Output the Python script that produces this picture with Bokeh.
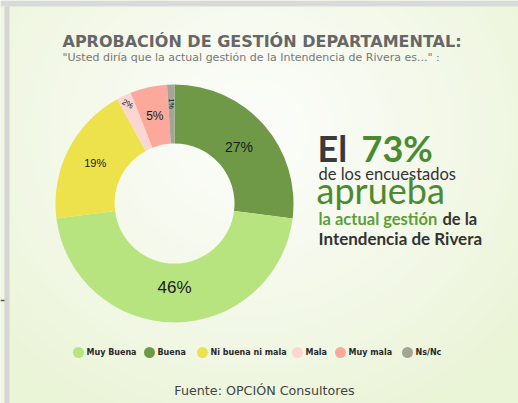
import numpy as np
from bokeh.plotting import figure
from bokeh.models import Range1d, ColumnDataSource
from bokeh.core.properties import value
from bokeh.embed import file_html
from bokeh.resources import INLINE

# ---------------- data ----------------
categories = ["Muy Buena", "Buena", "Ni buena ni mala", "Mala", "Muy mala", "Ns/Nc"]
values = [46, 27, 19, 2, 5, 1]
labels = ["46%", "27%", "19%", "2%", "5%", "1%"]
ring_order = [1, 0, 2, 3, 4, 5]  # clockwise from 12 o'clock

title = "APROBACIÓN DE GESTIÓN DEPARTAMENTAL:"
subtitle = "\"Usted diría que la actual gestión de la Intendencia de Rivera es...\" :"
source_note = "Fuente: OPCIÓN Consultores"

# ---------------- styles ----------------
colors = ["#b8e47f", "#6f9947", "#ede24c", "#fcd6d1", "#fca99b", "#a3a596"]
label_sizes = ["17px", "14px", "11px", "8px", "12px", "7px"]
label_radius = [84, 86, 89, 110, 90, 100]
label_rot = [0, 0, 0, -0.5, 0, -np.pi / 2]
legend_x = [78, 149, 202, 297, 340, 407]

W, H = 518, 403
p = figure(width=W, height=H, x_range=Range1d(0, W), y_range=Range1d(0, H),
           output_backend="svg", toolbar_location=None, min_border=0)
p.axis.visible = False
p.grid.visible = False
p.outline_line_color = None
p.border_fill_color = "#f2f7e8"
p.background_fill_color = "#f2f7e8"

# soft background gradient (style only), computed in screen rows then flipped
yy, xx = np.mgrid[0:H, 0:W]
d = np.sqrt(((xx - 250) / 360.0) ** 2 + ((yy - 130) / 330.0) ** 2)
t = np.clip(d, 0, 1) ** 1.2
c0 = np.array([252, 253, 250])
c1 = np.array([234, 244, 214])
img = np.zeros((H, W), dtype=np.uint32)
view = img.view(dtype=np.uint8).reshape((H, W, 4))
for k in range(3):
    view[:, :, k] = (c0[k] * (1 - t) + c1[k] * t).astype(np.uint8)
view[:, :, 3] = 255
img = img[::-1]
p.image_rgba(image=[img], x=0, y=0, dw=W, dh=H)

# screenshot frame (top bar, left strips)
p.quad(left=[0], right=[W], bottom=[H - 6], top=[H], fill_color="#d9d9d9", line_color=None)
p.quad(left=[0], right=[4], bottom=[0], top=[H - 6], fill_color="#eef5e0", line_color=None)
p.quad(left=[4], right=[9], bottom=[0], top=[H - 6], fill_color="#d5d5d5", line_color=None)
p.segment(x0=[0], y0=[H - 300], x1=[4], y1=[H - 300], line_color="#555555", line_width=1.5)

# ---------------- donut ----------------
cx, cy, r_in, r_out = 174, 200, 60, 119
total = float(sum(values))
starts, ends, cols, mids, order_idx = [], [], [], [], []
cum = 0.0
for i in ring_order:
    a0 = np.pi / 2 - 2 * np.pi * cum / total
    cum += values[i]
    a1 = np.pi / 2 - 2 * np.pi * cum / total
    starts.append(a0)
    ends.append(a1)
    cols.append(colors[i])
    mids.append((a0 + a1) / 2)
    order_idx.append(i)

src = ColumnDataSource(dict(start=starts, end=ends, color=cols))
p.annular_wedge(x=cx, y=cy, inner_radius=r_in, outer_radius=r_out,
                start_angle="start", end_angle="end", direction="clock",
                fill_color="color", line_color=None, source=src)

for m, i in zip(mids, order_idx):
    r = label_radius[i]
    p.text(x=[cx + r * np.cos(m)], y=[cy + r * np.sin(m)], text=[labels[i]],
           angle=label_rot[i], text_font=value("Liberation Sans"),
           text_font_size=label_sizes[i], text_color="#1a1a1a",
           text_align="center", text_baseline="middle")


def txt(x, y, s, font, size, color, bold=False, align="left"):
    p.text(x=[x], y=[y], text=[s], text_font=value(font),
           text_font_style="bold" if bold else "normal",
           text_font_size=size, text_color=color, text_align=align,
           text_baseline="middle")


# ---------------- titles ----------------
txt(62, 362.0, title, "DejaVu Sans", "16px", "#676767", bold=True)
txt(62, 346.5, subtitle, "DejaVu Sans", "11px", "#777777")

# ---------------- right text block ----------------
dark = "#3a3a3a"
green = "#4b8b2f"
green2 = "#5c9e3a"
txt(317, 255.9, "El", "Lato", "36px", dark, bold=True)
txt(361, 255.9, "73%", "Lato", "36px", green, bold=True)
txt(318, 229.8, "de los encuestados", "Lato", "16.5px", "#333333")
txt(316, 213.5, "aprueba", "Lato", "36px", green)
txt(318, 184.5, "la actual gestión", "Lato", "16.5px", green2, bold=True)
txt(442, 184.5, "de la", "Lato", "16.5px", "#333333", bold=True)
txt(318, 165.5, "Intendencia de Rivera", "Lato", "17px", "#333333", bold=True)

# ---------------- legend ----------------
leg_y = 51
p.scatter(x=legend_x, y=[leg_y] * len(categories), size=11, marker="circle",
          fill_color=colors, line_color=None)
p.text(x=[lx + 8 for lx in legend_x], y=[leg_y] * len(categories), text=categories,
       text_font=value("DejaVu Sans"), text_font_style="bold", text_font_size="8px",
       text_color="#2a2a2a", text_baseline="middle")

# ---------------- source ----------------
txt(264, 13.1, source_note, "DejaVu Sans", "12.7px", "#444444", align="center")

open("out.html", "w").write(file_html(p, INLINE))
